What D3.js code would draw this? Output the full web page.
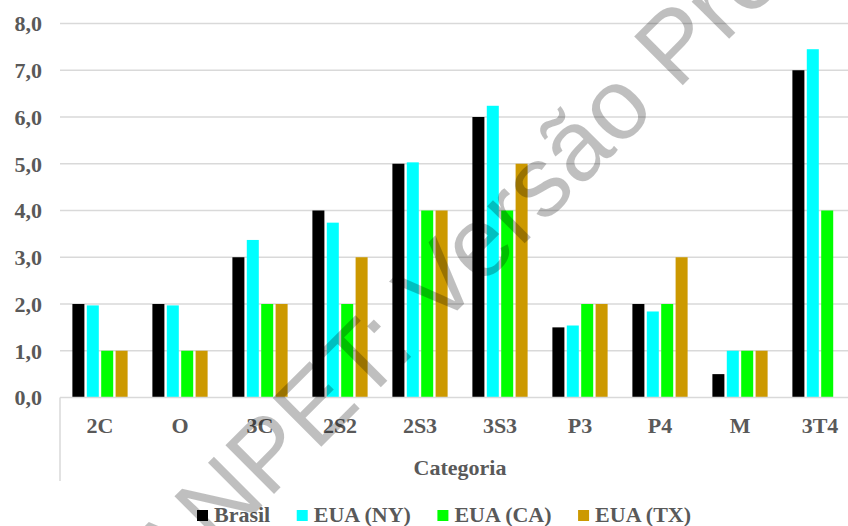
<!DOCTYPE html>
<html>
<head>
<meta charset="utf-8">
<script src="https://cdn.jsdelivr.net/npm/d3@7"></script>
<style>
  html, body { margin: 0; padding: 0; background: #fff; }
  svg { display: block; }
</style>
</head>
<body>
<svg id="chart" width="848" height="526"></svg>
<script>
// Categories and series values
const categories = ["2C", "O", "3C", "2S2", "2S3", "3S3", "P3", "P4", "M", "3T4"];
const brasil = [2, 2, 3, 4, 5, 6, 1.5, 2, 0.5, 7];
const euaNY  = [1.97, 1.97, 3.37, 3.74, 5.03, 6.24, 1.54, 1.84, 1, 7.45];
const euaCA  = [1, 1, 2, 2, 4, 4, 2, 2, 1, 4];
const euaTX  = [1, 1, 2, 3, 4, 5, 2, 3, 1, null];
const seriesNames = ["Brasil", "EUA (NY)", "EUA (CA)", "EUA (TX)"];
const seriesColors = ["#000000", "#00FFFF", "#00FF00", "#CC9900"];
const yTicks = [0, 1, 2, 3, 4, 5, 6, 7, 8];
const xTitle = "Categoria";
const watermark = "ANPET: Versão Prévia";

const seriesValues = [brasil, euaNY, euaCA, euaTX];
const textColor = "#595959";
const font = "'Liberation Serif', 'Times New Roman', serif";

const svg = d3.select("#chart");
const W = 848, H = 526;

const x = d3.scaleBand().domain(categories).range([60, 860]).padding(0);
const xs = d3.scaleBand().domain(seriesNames).range([0, x.bandwidth()])
  .paddingInner(1 / 6).paddingOuter(0.86);
const y = d3.scaleLinear().domain([0, 8]).range([397.5, 23.5]);

// Horizontal gridlines
svg.append("g").selectAll("line").data(yTicks.filter(d => d > 0)).join("line")
  .attr("x1", 60).attr("x2", W)
  .attr("y1", d => y(d)).attr("y2", d => y(d))
  .attr("stroke", "#d9d9d9").attr("stroke-width", 1.5);

// Y axis labels
const yAxis = d3.axisLeft(y).tickValues(yTicks)
  .tickFormat(d => d3.format(".1f")(d).replace(".", ","))
  .tickSize(0).tickPadding(0);
const yg = svg.append("g").attr("transform", "translate(42,0)").call(yAxis);
yg.select(".domain").remove();
yg.selectAll("text")
  .attr("font-family", font).attr("font-weight", "bold")
  .attr("font-size", 22).attr("fill", textColor)
  .attr("dy", "0.33em");

// Bars
const rows = [];
categories.forEach((c, i) => {
  seriesNames.forEach((s, j) => {
    const v = seriesValues[j][i];
    if (v != null) rows.push({ c, s, v, color: seriesColors[j] });
  });
});
svg.append("g").selectAll("rect").data(rows).join("rect")
  .attr("x", d => x(d.c) + xs(d.s))
  .attr("width", xs.bandwidth())
  .attr("y", d => y(d.v))
  .attr("height", d => y(0) - y(d.v))
  .attr("fill", d => d.color);

// Category axis
const xAxis = d3.axisBottom(x).tickSize(0).tickPadding(0);
const xg = svg.append("g").attr("transform", "translate(0,397.5)").call(xAxis);
xg.select(".domain").remove();
xg.selectAll("text")
  .attr("font-family", font).attr("font-weight", "bold")
  .attr("font-size", 22).attr("fill", textColor)
  .attr("y", 35.5).attr("dy", 0);
svg.append("line").attr("x1", 60).attr("x2", W).attr("y1", 397.5).attr("y2", 397.5)
  .attr("stroke", "#d9d9d9").attr("stroke-width", 1.5);
svg.append("line").attr("x1", 60).attr("x2", 60).attr("y1", 397.5).attr("y2", 481)
  .attr("stroke", "#d9d9d9").attr("stroke-width", 1.5);

// Axis title
svg.append("text").attr("x", 460).attr("y", 475).attr("text-anchor", "middle")
  .attr("font-family", font).attr("font-weight", "bold").attr("font-size", 22)
  .attr("fill", textColor).text(xTitle);

// Legend
const legend = svg.append("g");
let lx = 197;
seriesNames.forEach((name, i) => {
  legend.append("rect").attr("x", lx).attr("y", 510).attr("width", 11).attr("height", 11)
    .attr("fill", seriesColors[i]);
  const t = legend.append("text").attr("x", lx + 17).attr("y", 522)
    .attr("font-family", font).attr("font-weight", "bold").attr("font-size", 22)
    .attr("fill", textColor).text(name);
  lx += 17 + t.node().getComputedTextLength() + 26.5;
});

// Diagonal watermark
svg.append("text")
  .attr("transform", "translate(170,598) rotate(-45)")
  .attr("font-family", "'Liberation Sans', Arial, sans-serif")
  .attr("font-size", 100)
  .attr("fill", "#000").attr("fill-opacity", 0.25)
  .text(watermark);
</script>
</body>
</html>
